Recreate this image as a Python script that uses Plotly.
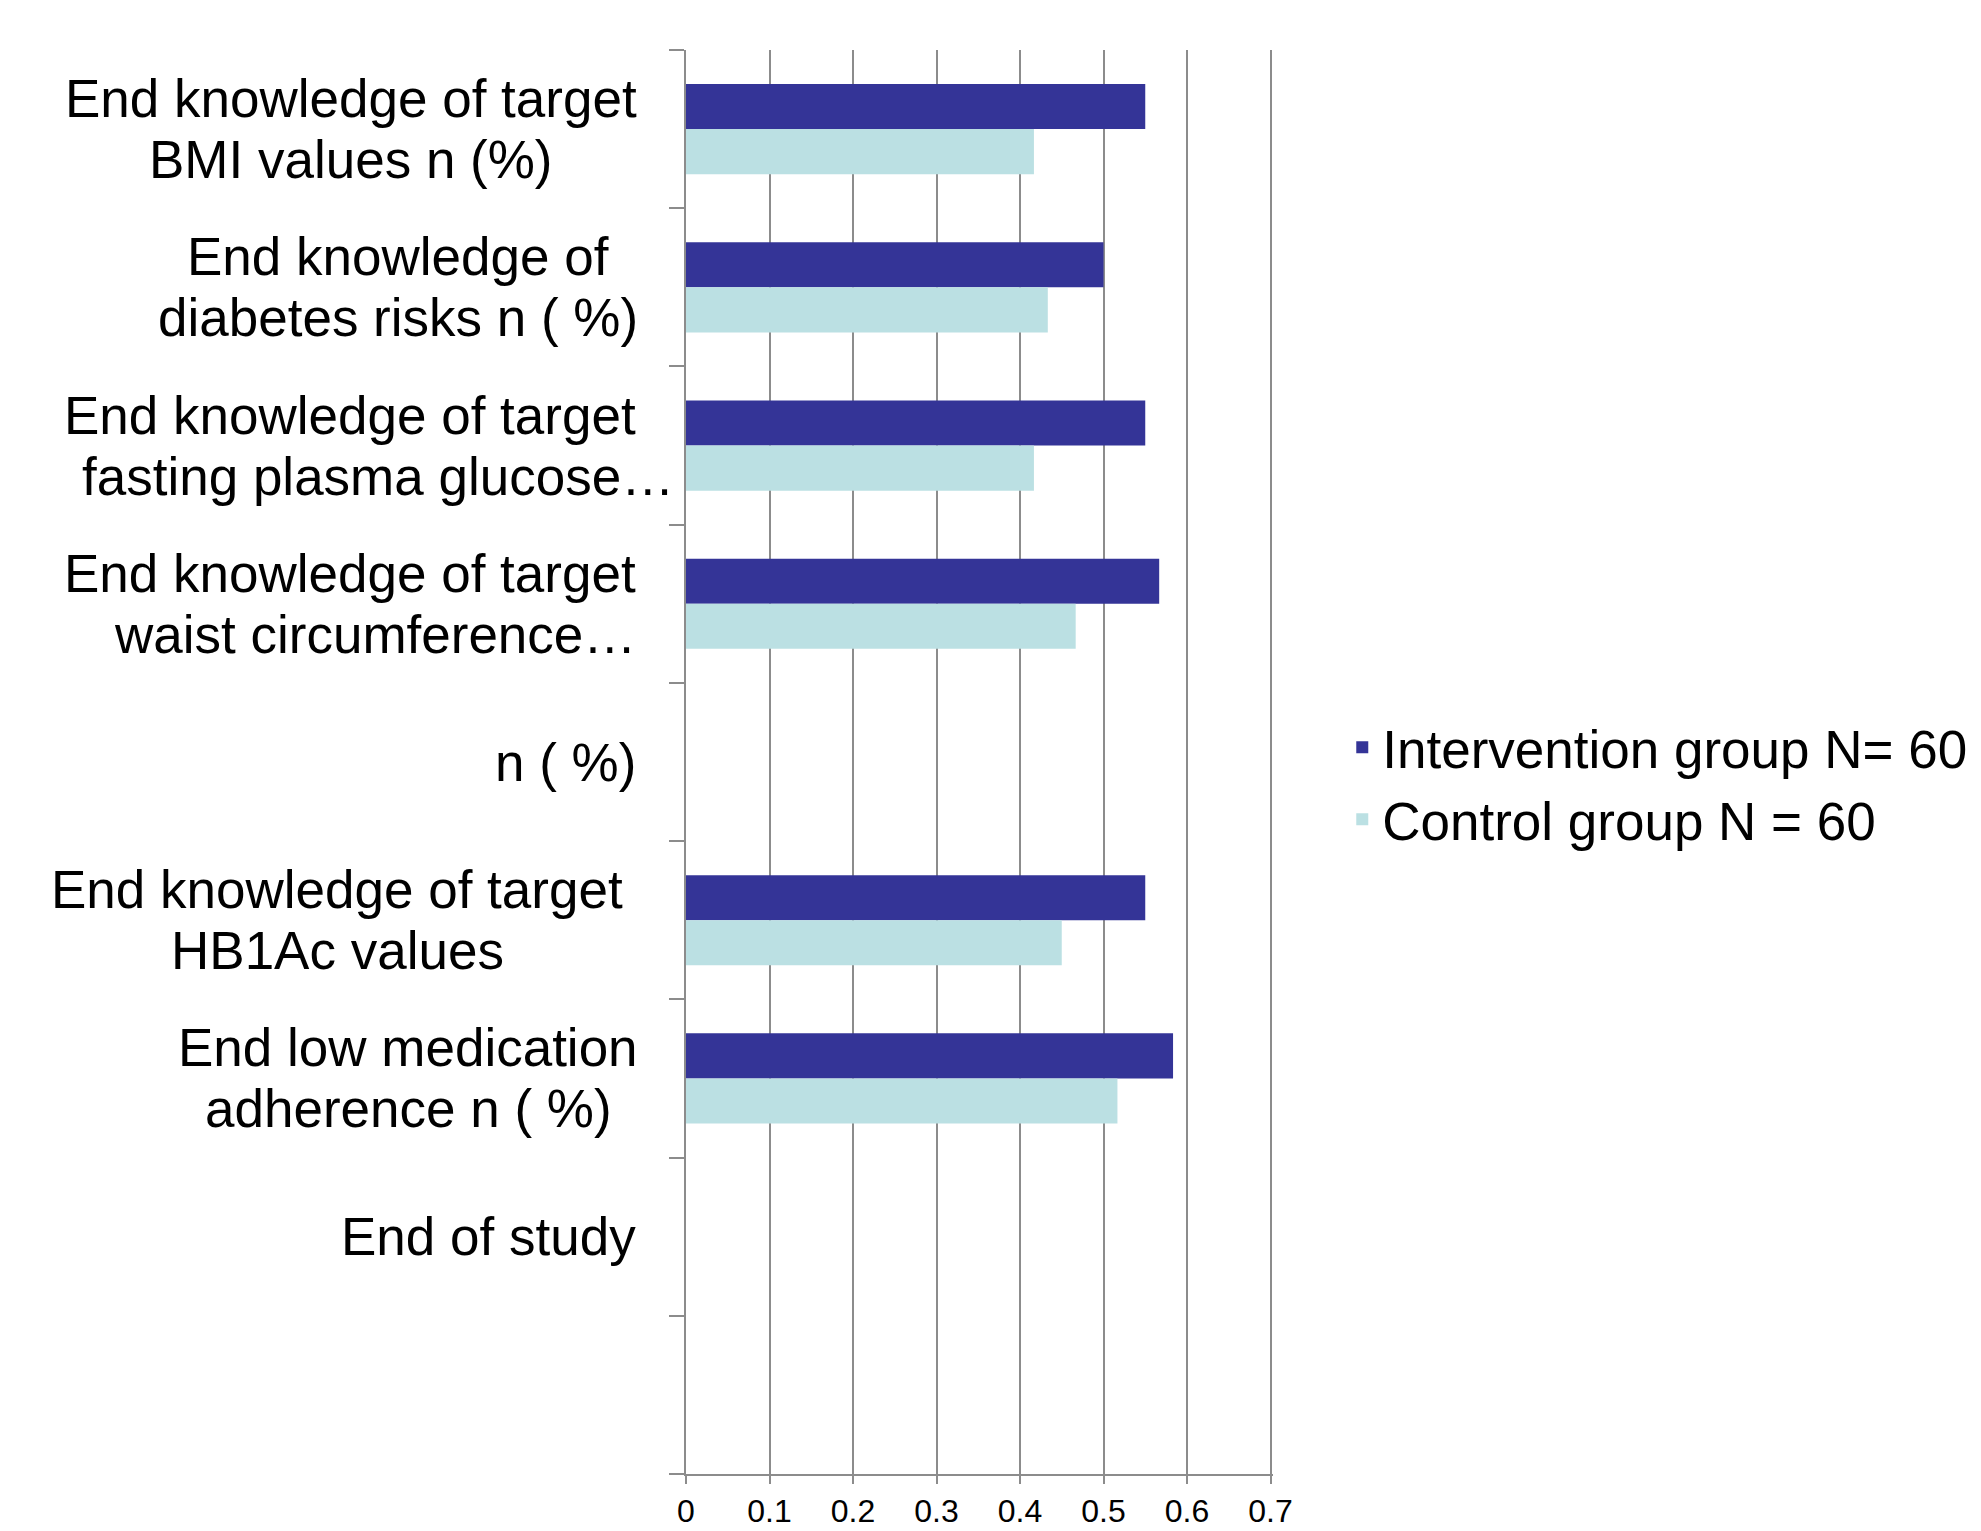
import plotly.graph_objects as go

# ---- data ----
categories = [
    "End knowledge of target<br>BMI values n (%)",
    "End knowledge of<br>diabetes risks n ( %)",
    "End knowledge of target<br>fasting plasma glucose…",
    "End knowledge of target<br>waist circumference…",
    "n ( %)",
    "End knowledge of target<br>HB1Ac values",
    "End low medication<br>adherence n ( %)",
    "End of study",
    "",
]
intervention = [0.55, 0.50, 0.55, 0.5667, None, 0.55, 0.5833, None, None]
control = [0.4167, 0.4333, 0.4167, 0.4667, None, 0.45, 0.5167, None, None]
series_names = ["Intervention group N= 60", "Control group N = 60"]
x_ticks = [0, 0.1, 0.2, 0.3, 0.4, 0.5, 0.6, 0.7]
x_tick_text = ["0", "0.1", "0.2", "0.3", "0.4", "0.5", "0.6", "0.7"]

# ---- style ----
W, H = 1981, 1531
X_MAX = 0.703
L, T, B = 686, 50, 1474
PLOT_W = 584 * X_MAX / 0.7
R = L + PLOT_W
FONT = "Liberation Sans, Arial, sans-serif"
COL_INT = "#343497"
COL_CTL = "#BBE0E3"
GRID = "#8c8c8c"
LABEL_SIZE = 53
LINE_GAP = 61  # px between label lines
# per-label: anchor and horizontal pixel offset(s) from the plot's left edge
label_anchor = ["center", "center", "right", "right", "right", "center", "center", "right", "right"]
label_shift = [[-335], [-288], [-48, -10], [-48], [-48], [-349], [-278], [-48], [-48]]

pos = list(range(len(categories)))

fig = go.Figure()
fig.add_trace(go.Bar(y=pos, x=intervention, orientation="h", name=series_names[0],
                     legendgroup="a", marker=dict(color=COL_INT, line=dict(width=0))))
fig.add_trace(go.Bar(y=pos, x=control, orientation="h", name=series_names[1],
                     legendgroup="b", marker=dict(color=COL_CTL, line=dict(width=0))))

for i, lab in enumerate(categories):
    if not lab:
        continue
    lines = lab.split("<br>")
    n = len(lines)
    for k, line in enumerate(lines):
        shifts = label_shift[i]
        xs = shifts[k] if k < len(shifts) else shifts[0]
        ys = -((k - (n - 1) / 2) * LINE_GAP)
        fig.add_annotation(x=0, xref="paper", y=pos[i], yref="y", text=line,
                           showarrow=False, xanchor=label_anchor[i], yanchor="middle",
                           xshift=xs, yshift=ys,
                           font=dict(family=FONT, size=LABEL_SIZE, color="black"))

boundaries = [p - 0.5 for p in pos] + [pos[-1] + 0.5]

fig.update_layout(
    width=W, height=H,
    margin=dict(l=L, r=W - R, t=T, b=H - B, pad=0, autoexpand=False),
    paper_bgcolor="white", plot_bgcolor="white",
    barmode="group", bargap=0.43, bargroupgap=0,
    font=dict(family=FONT, color="black"),
    legend=dict(x=1.118, xanchor="left", y=0.485, yanchor="middle",
                font=dict(family=FONT, size=53, color="black"),
                traceorder="normal", tracegroupgap=6,
                bgcolor="rgba(0,0,0,0)"),
    xaxis=dict(range=[0, X_MAX], tickvals=x_ticks, ticktext=x_tick_text,
               showgrid=True, gridcolor=GRID, gridwidth=2,
               showline=True, linecolor=GRID, linewidth=2,
               ticks="outside", ticklen=8, tickwidth=2, tickcolor=GRID,
               tickfont=dict(family=FONT, size=32, color="black"),
               zeroline=False, fixedrange=True, automargin=False),
    yaxis=dict(range=[boundaries[-1], boundaries[0]], tickvals=boundaries,
               showticklabels=False, showgrid=False, zeroline=False,
               showline=True, linecolor=GRID, linewidth=2,
               ticks="outside", ticklen=15, tickwidth=2, tickcolor=GRID,
               fixedrange=True, automargin=False),
)

fig.write_html("out.html")
